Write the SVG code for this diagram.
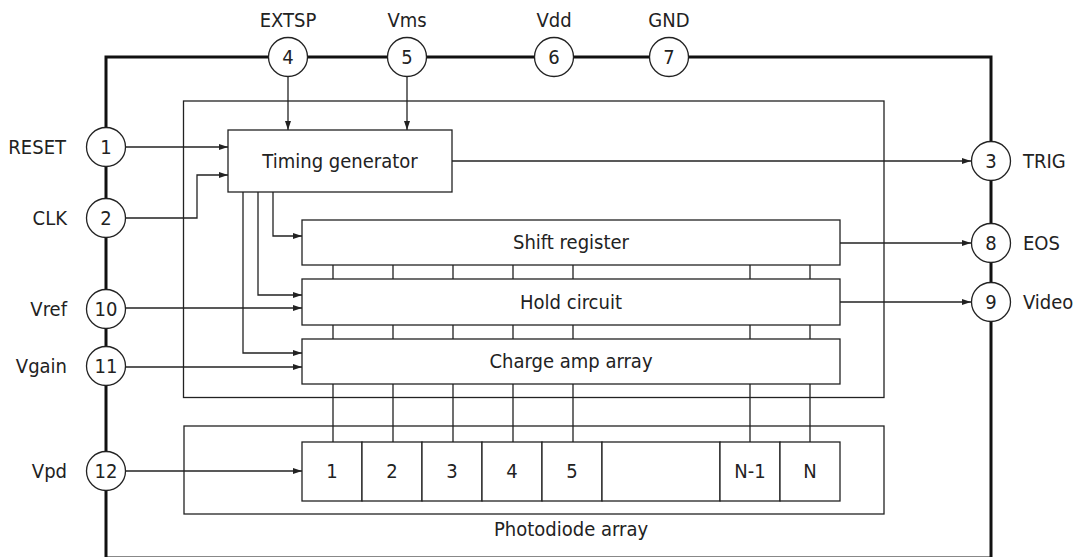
<svg xmlns="http://www.w3.org/2000/svg" width="1077" height="557" viewBox="0 0 1077 557">
<style>
text{font-family:"DejaVu Sans Condensed","DejaVu Sans",sans-serif;font-stretch:condensed;font-size:20px;fill:#222}
.ln{fill:none;stroke:#222;stroke-width:1.3}
.bx{fill:#fff;stroke:#222;stroke-width:1.3}
.frame{fill:none;stroke:#111;stroke-width:3}
.pin{fill:#fff;stroke:#222;stroke-width:1.3}
.c{text-anchor:middle}
.e{text-anchor:end}
</style>
<defs>
<marker id="ah" markerUnits="userSpaceOnUse" markerWidth="10" markerHeight="6" refX="9" refY="3" orient="auto">
<path d="M0,0 L9,3 L0,6 z" fill="#222"/>
</marker>
</defs>
<rect width="1077" height="557" fill="#fff"/>
<g id="package">
<rect class="frame" x="106" y="57" width="885" height="501"/>
</g>
<g id="inner-box"><rect class="ln" x="183.5" y="101" width="700.5" height="296.5"/></g>
<g id="photodiode-box"><rect class="ln" x="184" y="426" width="700" height="88"/>
<text class="c" x="571" y="536">Photodiode array</text></g>
<g id="connectors">
<path class="ln" d="M333,265V279 M393,265V279 M453,265V279 M513,265V279 M573,265V279 M750,265V279 M810,265V279"/>
<path class="ln" d="M333,325V339 M393,325V339 M453,325V339 M513,325V339 M573,325V339 M750,325V339 M810,325V339"/>
<path class="ln" d="M333,384V442 M393,384V442 M453,384V442 M513,384V442 M573,384V442 M750,384V442 M810,384V442"/>
<path class="ln" d="M125,147H228" marker-end="url(#ah)"/>
<path class="ln" d="M125,218H197V175H228" marker-end="url(#ah)"/>
<path class="ln" d="M288,76V130" marker-end="url(#ah)"/>
<path class="ln" d="M407,76V130" marker-end="url(#ah)"/>
<path class="ln" d="M125,308H302" marker-end="url(#ah)"/>
<path class="ln" d="M125,367H302" marker-end="url(#ah)"/>
<path class="ln" d="M125,471H302" marker-end="url(#ah)"/>
<path class="ln" d="M273,192V236H302" marker-end="url(#ah)"/>
<path class="ln" d="M258,192V295H302" marker-end="url(#ah)"/>
<path class="ln" d="M243,192V353H302" marker-end="url(#ah)"/>
<path class="ln" d="M452,161H971" marker-end="url(#ah)"/>
<path class="ln" d="M840,243H971" marker-end="url(#ah)"/>
<path class="ln" d="M840,302H971" marker-end="url(#ah)"/>
</g>
<g id="timing-generator"><rect class="bx" x="228" y="130" width="224" height="62"/><text class="c" x="340" y="168">Timing generator</text></g>
<g id="shift-register"><rect class="bx" x="302" y="220" width="538" height="45"/><text class="c" x="571" y="249">Shift register</text></g>
<g id="hold-circuit"><rect class="bx" x="302" y="279" width="538" height="46"/><text class="c" x="571" y="309">Hold circuit</text></g>
<g id="charge-amp-array"><rect class="bx" x="302" y="339" width="538" height="45"/><text class="c" x="571" y="368">Charge amp array</text></g>
<g id="photodiode-cells">
<rect class="bx" x="302" y="442" width="60" height="59"/><text class="c" x="332" y="478">1</text>
<rect class="bx" x="362" y="442" width="60" height="59"/><text class="c" x="392" y="478">2</text>
<rect class="bx" x="422" y="442" width="60" height="59"/><text class="c" x="452" y="478">3</text>
<rect class="bx" x="482" y="442" width="60" height="59"/><text class="c" x="512" y="478">4</text>
<rect class="bx" x="542" y="442" width="60" height="59"/><text class="c" x="572" y="478">5</text>
<rect class="bx" x="602" y="442" width="118" height="59"/>
<rect class="bx" x="720" y="442" width="60" height="59"/><text class="c" x="750" y="478">N-1</text>
<rect class="bx" x="780" y="442" width="60" height="59"/><text class="c" x="810" y="478">N</text>
</g>
<g id="pin1"><circle class="pin" cx="106" cy="147" r="19.5"/><text class="c" x="106" y="154">1</text><text class="e" x="66" y="154">RESET</text></g>
<g id="pin2"><circle class="pin" cx="106" cy="218" r="19.5"/><text class="c" x="106" y="225">2</text><text class="e" x="67" y="225">CLK</text></g>
<g id="pin10"><circle class="pin" cx="106" cy="309" r="19.5"/><text class="c" x="106" y="316">10</text><text class="e" x="67" y="316">Vref</text></g>
<g id="pin11"><circle class="pin" cx="106" cy="366" r="19.5"/><text class="c" x="106" y="373">11</text><text class="e" x="67" y="373">Vgain</text></g>
<g id="pin12"><circle class="pin" cx="106" cy="471" r="19.5"/><text class="c" x="106" y="478">12</text><text class="e" x="67" y="478">Vpd</text></g>
<g id="pin4"><circle class="pin" cx="288" cy="57" r="19.5"/><text class="c" x="288" y="64">4</text><text class="c" x="288" y="27">EXTSP</text></g>
<g id="pin5"><circle class="pin" cx="407" cy="57" r="19.5"/><text class="c" x="407" y="64">5</text><text class="c" x="407" y="27">Vms</text></g>
<g id="pin6"><circle class="pin" cx="554" cy="57" r="19.5"/><text class="c" x="554" y="64">6</text><text class="c" x="554" y="27">Vdd</text></g>
<g id="pin7"><circle class="pin" cx="669" cy="57" r="19.5"/><text class="c" x="669" y="64">7</text><text class="c" x="669" y="27">GND</text></g>
<g id="pin3"><circle class="pin" cx="991" cy="161" r="19.5"/><text class="c" x="991" y="168">3</text><text x="1023" y="168">TRIG</text></g>
<g id="pin8"><circle class="pin" cx="991" cy="243" r="19.5"/><text class="c" x="991" y="250">8</text><text x="1023" y="250">EOS</text></g>
<g id="pin9"><circle class="pin" cx="991" cy="302" r="19.5"/><text class="c" x="991" y="309">9</text><text x="1023" y="309">Video</text></g>
</svg>
